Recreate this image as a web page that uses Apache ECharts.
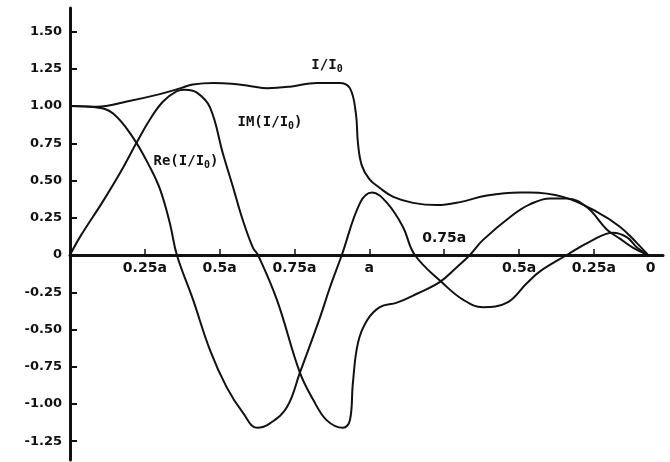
<!DOCTYPE html>
<html>
<head>
<meta charset="utf-8">
<script src="https://cdn.jsdelivr.net/npm/echarts@6/dist/echarts.min.js"></script>
<style>
  html, body { margin: 0; padding: 0; background: #fff; }
  #chart { width: 670px; height: 462px; }
</style>
</head>
<body>
<div id="chart"></div>
<script>
// Position along the path in units of a: out from 0 to a, then back down to 0.
const xTickValues = [0.25, 0.5, 0.75, 1, 1.25, 1.5, 1.75];
const xLabelValues = [0.25, 0.5, 0.75, 1, 1.5, 1.75, 1.94];
const xLabelTexts = ['0.25a', '0.5a', '0.75a', 'a', '0.5a', '0.25a', '0'];
const xUpperLabelValues = [1.25];
const xUpperLabelTexts = ['0.75a'];

const yTickValues = [-1.25, -1.0, -0.75, -0.5, -0.25, 0, 0.25, 0.5, 0.75, 1.0, 1.25, 1.5];

// |I/I0|
const magX = [0, 0.09, 0.19, 0.30, 0.37, 0.41, 0.48, 0.54, 0.60, 0.66, 0.735, 0.825, 0.90, 0.935, 0.955, 0.962, 0.975, 1.0, 1.035, 1.08, 1.146, 1.226, 1.303, 1.393, 1.503, 1.536, 1.647, 1.76, 1.837, 1.894, 1.931];
const magY = [1.00, 0.995, 1.03, 1.08, 1.12, 1.145, 1.155, 1.15, 1.135, 1.12, 1.13, 1.155, 1.155, 1.12, 0.95, 0.75, 0.60, 0.51, 0.45, 0.39, 0.35, 0.335, 0.355, 0.40, 0.42, 0.42, 0.39, 0.29, 0.19, 0.08, 0];

// Re(I/I0)
const reX = [0, 0.09, 0.144, 0.21, 0.267, 0.301, 0.334, 0.357, 0.411, 0.468, 0.524, 0.578, 0.625, 0.668, 0.725, 0.768, 0.835, 0.868, 0.908, 0.969, 1.009, 1.059, 1.112, 1.152, 1.246, 1.313, 1.379, 1.46, 1.526, 1.57, 1.66, 1.737, 1.814, 1.86, 1.894, 1.931];
const reY = [1.00, 0.99, 0.95, 0.79, 0.59, 0.44, 0.21, 0.0, -0.30, -0.64, -0.89, -1.06, -1.16, -1.13, -1.02, -0.79, -0.42, -0.22, 0, 0.35, 0.42, 0.35, 0.19, 0, -0.19, -0.30, -0.35, -0.32, -0.19, -0.11, 0, 0.09, 0.15, 0.12, 0.05, 0];

// IM(I/I0)
const imX = [0, 0.033, 0.11, 0.167, 0.224, 0.267, 0.311, 0.357, 0.384, 0.424, 0.468, 0.511, 0.544, 0.578, 0.611, 0.628, 0.691, 0.768, 0.812, 0.858, 0.912, 0.935, 0.945, 0.962, 0.992, 1.035, 1.092, 1.159, 1.236, 1.293, 1.336, 1.379, 1.48, 1.536, 1.603, 1.66, 1.727, 1.794, 1.837, 1.88, 1.931];
const imY = [0, 0.12, 0.36, 0.55, 0.76, 0.91, 1.03, 1.10, 1.11, 1.09, 0.99, 0.68, 0.46, 0.23, 0.05, 0, -0.30, -0.79, -0.97, -1.11, -1.16, -1.11, -0.86, -0.59, -0.44, -0.35, -0.32, -0.26, -0.18, -0.08, 0, 0.10, 0.27, 0.34, 0.38, 0.38, 0.32, 0.17, 0.11, 0.05, 0];

const zip = (xs, ys) => xs.map((x, i) => [x, ys[i]]);

const INK = '#111';
const labelFont = 'DejaVu Sans';

// y range and plot box; the x axis is lifted from the grid's bottom edge to y = 0
const Y_MIN = -1.376, Y_MAX = 1.658;
const GRID = { left: 70, right: 7, top: 8, bottom: 2 };
const plotH = 462 - GRID.top - GRID.bottom;
const zeroLift = -plotH * (0 - Y_MIN) / (Y_MAX - Y_MIN);

function curve(name, xs, ys) {
  return {
    name, type: 'line', data: zip(xs, ys),
    smooth: 0.4, showSymbol: false, symbol: 'none',
    lineStyle: { color: INK, width: 2 }, silent: true, animation: false
  };
}

const subRich = {
  m: { fontFamily: 'DejaVu Sans Mono', fontWeight: 'bold', fontSize: 14, fill: INK },
  s: { fontFamily: 'DejaVu Sans Mono', fontWeight: 'bold', fontSize: 10, fill: INK, padding: [8, 0, 0, 0] }
};
function tag(text, cx, cy) {
  return {
    type: 'text', x: cx, y: cy, silent: true,
    style: { text, rich: subRich, align: 'center', verticalAlign: 'middle', fill: INK }
  };
}

const chart = echarts.init(document.getElementById('chart'), null, { renderer: 'canvas' });
chart.setOption({
  animation: false,
  backgroundColor: '#fff',
  grid: Object.assign({ containLabel: false }, GRID),
  xAxis: [{
    type: 'value', min: 0, max: 1.981, position: 'bottom', offset: zeroLift,
    axisLine: { onZero: false, lineStyle: { color: INK, width: 3 } },
    axisTick: { show: true, inside: true, length: 6, customValues: xTickValues, lineStyle: { color: INK, width: 1.5 } },
    axisLabel: {
      customValues: xLabelValues, margin: 6,
      formatter: v => xLabelTexts[xLabelValues.indexOf(v)],
      color: INK, fontFamily: labelFont, fontWeight: 'bold', fontSize: 14
    },
    splitLine: { show: false }
  }, {
    type: 'value', min: 0, max: 1.981, position: 'bottom', offset: zeroLift,
    axisLine: { show: false, onZero: false },
    axisTick: { show: false },
    axisLabel: {
      inside: true, customValues: xUpperLabelValues, margin: 10,
      formatter: v => xUpperLabelTexts[xUpperLabelValues.indexOf(v)],
      color: INK, fontFamily: labelFont, fontWeight: 'bold', fontSize: 14
    },
    splitLine: { show: false }
  }],
  yAxis: {
    type: 'value', min: Y_MIN, max: Y_MAX,
    axisLine: { show: true, onZero: false, lineStyle: { color: INK, width: 3 } },
    axisTick: { show: true, inside: true, length: 7, customValues: yTickValues, lineStyle: { color: INK, width: 2 } },
    axisLabel: {
      customValues: yTickValues, margin: 8,
      formatter: v => (Math.abs(v) < 1e-9 ? '0' : v.toFixed(2)),
      color: INK, fontFamily: labelFont, fontWeight: 'bold', fontSize: 13
    },
    splitLine: { show: false }
  },
  series: [
    curve('I/I0', magX, magY),
    curve('Re(I/I0)', reX, reY),
    curve('IM(I/I0)', imX, imY)
  ],
  graphic: [
    tag('{m|I/I}{s|0}', 327, 65),
    tag('{m|IM(I/I}{s|0}{m|)}', 270, 122),
    tag('{m|Re(I/I}{s|0}{m|)}', 186, 161)
  ]
});
</script>
</body>
</html>
